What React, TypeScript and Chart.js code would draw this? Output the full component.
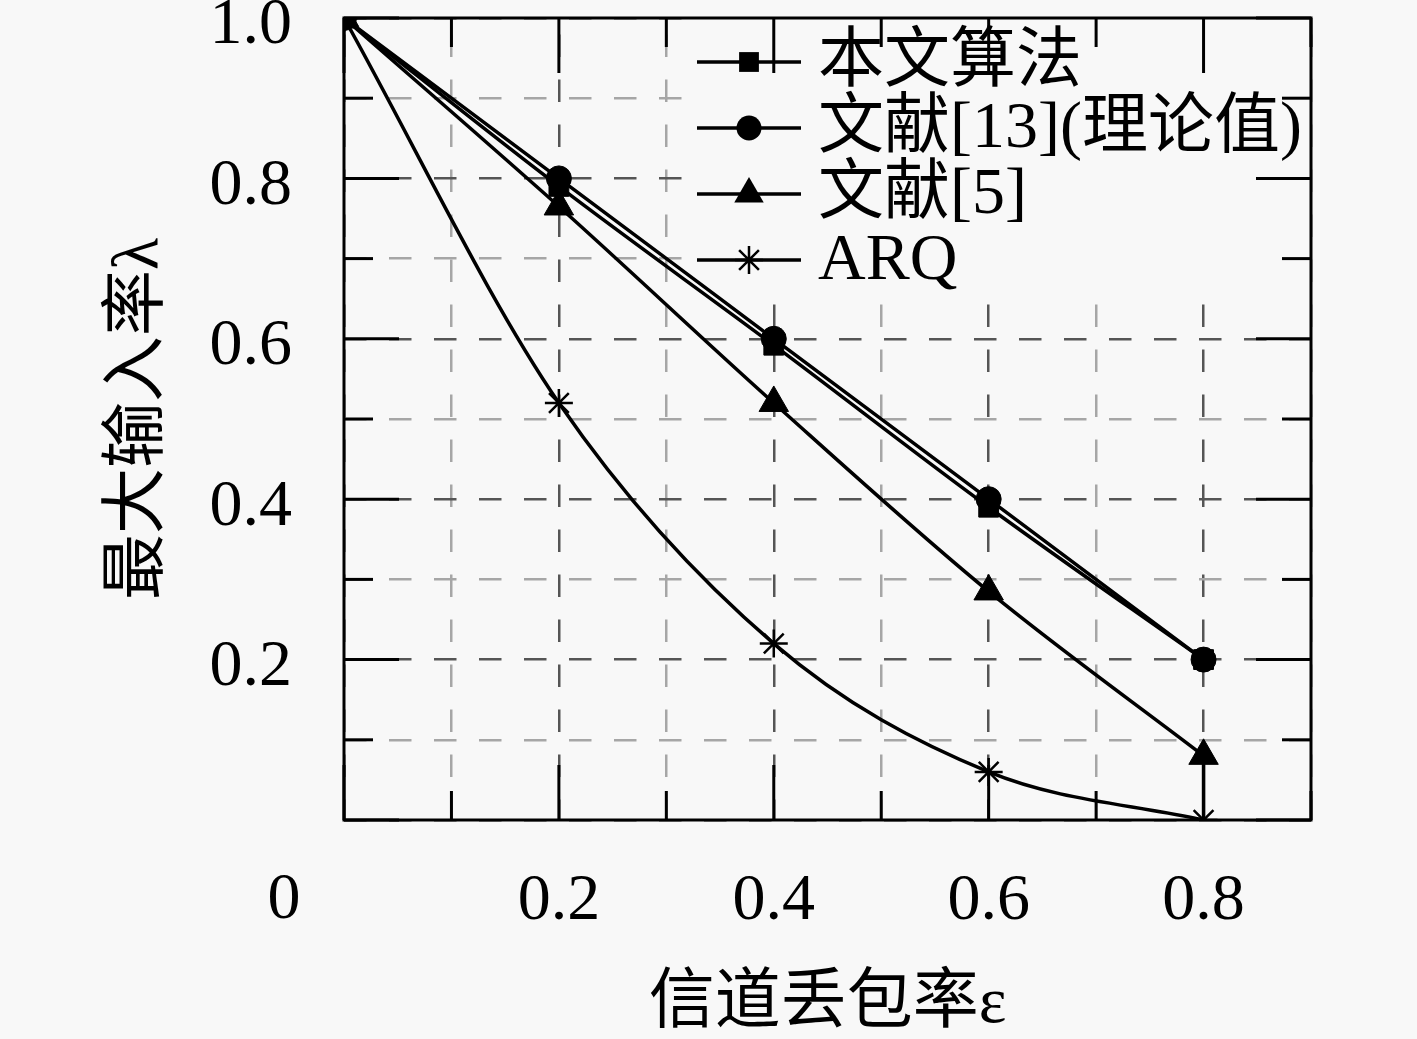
import React, { useEffect, useRef } from 'react';
import { Chart, registerables } from 'chart.js';

Chart.register(...registerables);

// ---------- data ----------
const xValues = [0, 0.2, 0.4, 0.6, 0.8];
const seriesLabels = ['本文算法', '文献[13](理论值)', '文献[5]', 'ARQ'];
const proposed = [1, 0.79, 0.592, 0.39, 0.2];
const ref13 = [1, 0.8, 0.6, 0.4, 0.2];
const ref5 = [1, 0.765, 0.52, 0.285, 0.08];
const arq = [1, 0.52, 0.22, 0.06, 0];
const xTickLabels = ['0.2', '0.4', '0.6', '0.8'];
const yTickLabels = ['0.2', '0.4', '0.6', '0.8', '1.0'];
const originLabel = '0';
const xTitle = '信道丢包率ε';
const yTitle = '最大输入率λ';

// ---------- styles ----------
const BG = '#f8f8f8';
const FONT = "'Liberation Serif', 'Noto Sans CJK SC', serif";
const FS = 66;
const LINE_W = 3.5;
const pointStyles = ['rect', 'circle', 'triangle', 'star'];
const pointRadii = [14, 12.5, 17, 14];

const isMajor = (v: number) => Math.round(v * 10) % 2 === 0;

function drawMarker(ctx: CanvasRenderingContext2D, style: string, x: number, y: number, r: number) {
  ctx.save();
  ctx.fillStyle = '#000';
  ctx.strokeStyle = '#000';
  ctx.beginPath();
  if (style === 'rect') {
    const s = r * Math.SQRT1_2;
    ctx.rect(x - s, y - s, 2 * s, 2 * s);
    ctx.fill();
  } else if (style === 'circle') {
    ctx.arc(x, y, r, 0, Math.PI * 2);
    ctx.fill();
  } else if (style === 'triangle') {
    let a = 0;
    ctx.moveTo(x + Math.sin(a) * r, y - Math.cos(a) * r);
    a += (2 * Math.PI) / 3;
    ctx.lineTo(x + Math.sin(a) * r, y - Math.cos(a) * r);
    a += (2 * Math.PI) / 3;
    ctx.lineTo(x + Math.sin(a) * r, y - Math.cos(a) * r);
    ctx.closePath();
    ctx.fill();
  } else {
    ctx.lineWidth = 2.5;
    const d = r * Math.SQRT1_2;
    ctx.moveTo(x - r, y); ctx.lineTo(x + r, y);
    ctx.moveTo(x, y - r); ctx.lineTo(x, y + r);
    ctx.moveTo(x - d, y - d); ctx.lineTo(x + d, y + d);
    ctx.moveTo(x - d, y + d); ctx.lineTo(x + d, y - d);
    ctx.stroke();
  }
  ctx.restore();
}

const bgPlugin = {
  id: 'bgFill',
  beforeDraw(chart: any) {
    const { ctx, width, height } = chart;
    ctx.save();
    ctx.fillStyle = BG;
    ctx.fillRect(0, 0, width, height);
    ctx.restore();
  },
};

const keyPlugin = {
  id: 'opaqueKey',
  beforeDatasetsDraw(chart: any) {
    const { ctx, chartArea } = chart;
    const boxLeft = 690;
    const boxBottom = 290;
    ctx.save();
    ctx.fillStyle = BG;
    ctx.fillRect(boxLeft, chartArea.top + 1, chartArea.right - boxLeft, boxBottom - chartArea.top);
    const rowY0 = 62;
    const rowStep = 66;
    const lineX1 = 697;
    const lineX2 = 801;
    const textX = 818;
    ctx.font = `${FS}px ${FONT}`;
    ctx.textBaseline = 'middle';
    ctx.textAlign = 'left';
    seriesLabels.forEach((label, i) => {
      const y = rowY0 + i * rowStep;
      ctx.strokeStyle = '#000';
      ctx.lineWidth = LINE_W;
      ctx.beginPath();
      ctx.moveTo(lineX1, y);
      ctx.lineTo(lineX2, y);
      ctx.stroke();
      drawMarker(ctx, pointStyles[i], (lineX1 + lineX2) / 2, y, pointRadii[i]);
      ctx.fillStyle = '#000';
      ctx.fillText(label, textX, y + 2);
    });
    ctx.restore();
  },
};

const framePlugin = {
  id: 'frameTicks',
  afterDatasetsDraw(chart: any) {
    const { ctx, chartArea, scales } = chart;
    const { left, right, top, bottom } = chartArea;
    const xs = scales.x;
    const ys = scales.y;
    ctx.save();
    ctx.strokeStyle = '#000';
    ctx.lineWidth = 3;
    const seg = (x1: number, y1: number, x2: number, y2: number) => {
      ctx.beginPath();
      ctx.moveTo(x1, y1);
      ctx.lineTo(x2, y2);
      ctx.stroke();
    };
    xs.ticks.forEach((t: any) => {
      const px = xs.getPixelForValue(t.value);
      const len = isMajor(t.value) ? 55 : 29;
      seg(px, bottom, px, bottom - len);
      seg(px, top, px, top + len);
    });
    ys.ticks.forEach((t: any) => {
      const py = ys.getPixelForValue(t.value);
      const len = isMajor(t.value) ? 55 : 29;
      seg(left, py, left + len, py);
      seg(right, py, right - len, py);
    });
    ctx.strokeRect(left, top, right - left, bottom - top);
    // shared origin label
    ctx.fillStyle = '#000';
    ctx.font = `${FS}px ${FONT}`;
    ctx.textAlign = 'center';
    ctx.textBaseline = 'middle';
    ctx.fillText(originLabel, xs.getPixelForValue(0) - 60, bottom + 81);
    ctx.restore();
  },
};

export default function App() {
  const ref = useRef<HTMLCanvasElement | null>(null);

  useEffect(() => {
    if (!ref.current) return;
    const series = [proposed, ref13, ref5, arq];
    const datasets: any[] = series.map((vals, i) => ({
      label: seriesLabels[i],
      data: xValues.map((x, j) => ({ x, y: vals[j] })),
      borderColor: '#000',
      backgroundColor: '#000',
      borderWidth: LINE_W,
      pointStyle: pointStyles[i],
      pointRadius: pointRadii[i],
      pointBackgroundColor: '#000',
      pointBorderColor: '#000',
      pointBorderWidth: i === 3 ? 2.5 : 1,
      cubicInterpolationMode: 'monotone',
      fill: false,
    }));
    const last = xValues.length - 1;
    datasets.push({
      label: '',
      data: [
        { x: xValues[last], y: ref5[last] },
        { x: xValues[last], y: arq[last] },
      ],
      borderColor: '#000',
      borderWidth: LINE_W,
      pointRadius: 0,
      fill: false,
    });

    const tickFont = { family: FONT, size: FS, lineHeight: 0.4 };
    const gridColor = (c: any) => (c.tick && isMajor(c.tick.value) ? '#555555' : '#a6a6a6');

    const chart = new Chart(ref.current, {
      type: 'line',
      data: { datasets },
      plugins: [bgPlugin, keyPlugin, framePlugin],
      options: {
        animation: false,
        responsive: false,
        devicePixelRatio: 1,
        layout: { padding: { top: 16, right: 106, left: 0, bottom: 0 } },
        plugins: { legend: { display: false }, tooltip: { enabled: false } },
        scales: {
          x: {
            type: 'linear',
            min: 0,
            max: 0.9,
            afterFit: (s: any) => {
              s.height = 219;
              s.paddingLeft = 0;
              s.paddingRight = 0;
              s.paddingTop = 0;
              s.paddingBottom = 0;
            },
            ticks: {
              stepSize: 0.1,
              autoSkip: false,
              maxRotation: 0,
              padding: 68,
              color: '#000',
              font: tickFont,
              callback: (v: any) => {
                const s = Number(v).toFixed(1);
                return xTickLabels.includes(s) ? s : '';
              },
            },
            grid: { color: gridColor, lineWidth: 2.5, drawTicks: false },
            border: { display: false, dash: [22.5, 22.5], dashOffset: 28.5 },
            title: {
              display: true,
              text: xTitle,
              color: '#000',
              font: { family: FONT, size: FS, lineHeight: 1 },
              padding: { top: 0, bottom: 1 },
            },
          },
          y: {
            type: 'linear',
            min: 0,
            max: 1,
            afterFit: (s: any) => {
              s.width = 344;
              s.paddingTop = 0;
              s.paddingBottom = 0;
              s.paddingLeft = 0;
              s.paddingRight = 0;
            },
            ticks: {
              stepSize: 0.1,
              autoSkip: false,
              padding: 52,
              labelOffset: 8,
              color: '#000',
              font: tickFont,
              callback: (v: any) => {
                const s = Number(v).toFixed(1);
                return yTickLabels.includes(s) ? s : '';
              },
            },
            grid: { color: gridColor, lineWidth: 2.5, drawTicks: false },
            border: { display: false, dash: [22.5, 22.5] },
            title: {
              display: true,
              text: yTitle,
              color: '#000',
              font: { family: FONT, size: FS, lineHeight: 1 },
              padding: { top: 107, bottom: 0 },
            },
          },
        },
      } as any,
    });
    return () => chart.destroy();
  }, []);

  return (
    <div style={{ position: 'absolute', left: 0, top: 0, width: 1417, height: 1039, background: BG }}>
      <canvas ref={ref} width={1417} height={1039} style={{ display: 'block', width: 1417, height: 1039 }} />
    </div>
  );
}
